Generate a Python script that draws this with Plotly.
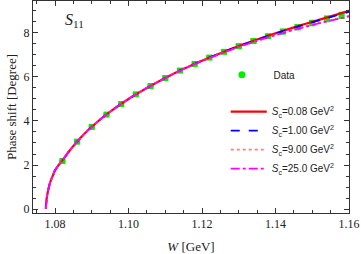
import plotly.graph_objects as go

# Data points
data_w = [1.082, 1.086, 1.090, 1.094, 1.098, 1.102, 1.106, 1.110, 1.114, 1.118,
          1.122, 1.126, 1.130, 1.134, 1.138, 1.142, 1.146, 1.150, 1.154, 1.158]
data_delta = [2.18, 3.06, 3.73, 4.29, 4.77, 5.21, 5.59, 5.95, 6.29, 6.59,
              6.88, 7.14, 7.40, 7.63, 7.85, 8.06, 8.26, 8.45, 8.64, 8.80]
data_err = [0.03, 0.03, 0.03, 0.03, 0.04, 0.04, 0.04, 0.05, 0.05, 0.05,
            0.06, 0.06, 0.07, 0.08, 0.08, 0.09, 0.10, 0.11, 0.12, 0.13]

# Fit curves
curve_w = [1.0775, 1.0777, 1.0780, 1.0783, 1.0786, 1.0790, 1.0795, 1.0800, 1.0810,
           1.0820, 1.0840, 1.0860, 1.0880, 1.0900, 1.0950, 1.1000, 1.1050, 1.1100,
           1.1150, 1.1200, 1.1250, 1.1300, 1.1350, 1.1400, 1.1450, 1.1500, 1.1550, 1.1600]
curve_sc008 = [0.0, 0.45, 0.75, 0.98, 1.17, 1.36, 1.56, 1.76, 2.00, 2.21, 2.66, 3.06,
               3.42, 3.74, 4.42, 5.00, 5.50, 5.95, 6.37, 6.74, 7.08, 7.40, 7.70,
               7.98, 8.25, 8.50, 8.75, 9.00]
curve_sc100 = [0.0, 0.45, 0.75, 0.98, 1.17, 1.36, 1.56, 1.76, 2.00, 2.21, 2.66, 3.06,
               3.42, 3.74, 4.42, 5.00, 5.50, 5.95, 6.37, 6.74, 7.08, 7.40, 7.69,
               7.97, 8.23, 8.48, 8.72, 8.96]
curve_sc900 = [0.0, 0.45, 0.75, 0.98, 1.17, 1.36, 1.56, 1.76, 2.00, 2.21, 2.66, 3.06,
               3.42, 3.74, 4.42, 5.00, 5.50, 5.95, 6.36, 6.72, 7.05, 7.36, 7.64,
               7.91, 8.15, 8.38, 8.58, 8.78]
curve_sc250 = [0.0, 0.45, 0.75, 0.98, 1.17, 1.36, 1.56, 1.76, 2.00, 2.21, 2.66, 3.06,
               3.42, 3.74, 4.42, 5.00, 5.50, 5.95, 6.36, 6.72, 7.05, 7.36, 7.64,
               7.90, 8.14, 8.36, 8.56, 8.75]

labels = ["<i>S</i><sub>c</sub>=0.08 GeV<sup>2</sup>",
          "<i>S</i><sub>c</sub>=1.00 GeV<sup>2</sup>",
          "<i>S</i><sub>c</sub>=9.00 GeV<sup>2</sup>",
          "<i>S</i><sub>c</sub>=25.0 GeV<sup>2</sup>"]

fig = go.Figure()

fig.add_trace(go.Scatter(
    x=data_w, y=data_delta, mode="markers",
    marker=dict(symbol="square", size=6, color="#00ee00"),
    error_y=dict(type="data", array=data_err, color="#00ee00", thickness=1.5, width=3),
    showlegend=False))

styles = [("#ff0000", "solid", 2.2), ("#0000ff", "dash", 1.8),
          ("#ff7f7f", "dot", 1.8), ("#ff00ff", "dashdot", 1.8)]
for ys, lab, (c, d, w) in zip([curve_sc008, curve_sc100, curve_sc900, curve_sc250], labels, styles):
    fig.add_trace(go.Scatter(x=curve_w, y=ys, mode="lines", name=lab,
                             line=dict(color=c, dash=d, width=w, shape="spline"),
                             legend="legend"))

# legend-only entry for data
fig.add_trace(go.Scatter(x=[None], y=[None], mode="markers", name="&nbsp;&nbsp;Data",
                         marker=dict(symbol="circle", size=7, color="#00ee00"),
                         legend="legend2"))

axis_font = dict(family="Liberation Serif", size=12, color="#222")
fig.update_layout(
    width=361, height=254,
    margin=dict(l=33, r=12, t=1, b=41, autoexpand=False),
    plot_bgcolor="white", paper_bgcolor="white",
    xaxis=dict(range=[1.074, 1.16], tickvals=[1.08, 1.10, 1.12, 1.14, 1.16],
               ticktext=["1.08", "1.10", "1.12", "1.14", "1.16"],
               ticks="inside", ticklen=5, tickcolor="#333", showline=True, linecolor="#333",
               mirror="ticks", showgrid=False, zeroline=False, tickfont=axis_font, automargin=False,
               minor=dict(dtick=0.005, tick0=1.08, ticks="inside", ticklen=3, tickcolor="#333", showgrid=False),
               title=dict(text="<i>W</i> [GeV]", font=dict(family="Liberation Serif", size=13, color="#222"), standoff=12)),
    yaxis=dict(range=[-0.18, 9.45], tickvals=[0, 2, 4, 6, 8],
               ticks="inside", ticklen=5, tickcolor="#333", showline=True, linecolor="#333",
               mirror="ticks", showgrid=False, zeroline=False, tickfont=axis_font, automargin=False,
               minor=dict(dtick=0.5, tick0=0, ticks="inside", ticklen=3, tickcolor="#333", showgrid=False),
               title=dict(text="Phase shift [Degree]", font=dict(family="Liberation Serif", size=13, color="#222"), standoff=4)),
    legend=dict(x=0.61, y=0.547, xanchor="left", yanchor="top", bgcolor="rgba(0,0,0,0)",
                font=dict(family="Liberation Sans", size=10, color="#222"), tracegroupgap=0,
                itemwidth=36),
    legend2=dict(x=0.579, y=0.72, xanchor="left", yanchor="top", bgcolor="rgba(0,0,0,0)",
                 font=dict(family="Liberation Sans", size=10, color="#222"), itemwidth=42),
    annotations=[dict(x=0.095, y=0.96, xref="paper", yref="paper", xanchor="left", yanchor="top",
                      text="<i>S</i><sub>11</sub>", showarrow=False,
                      font=dict(family="Liberation Serif", size=16, color="#222"))],
)

fig.write_html("out.html", config={"displayModeBar": False},
               post_script="document.body.style.margin='0';")
